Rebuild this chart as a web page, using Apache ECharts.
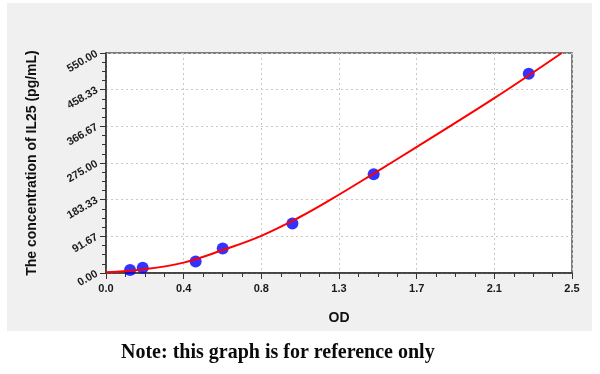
<!DOCTYPE html>
<html>
<head>
<meta charset="utf-8">
<script src="https://cdn.jsdelivr.net/npm/echarts@6/dist/echarts.min.js"></script>
<style>html,body{margin:0;padding:0;background:#fff}#c{width:600px;height:374px}</style>
</head>
<body>
<div id="c"></div>
<script>
// Measured standard points (OD, concentration pg/mL)
const pointOD = [0.129, 0.197, 0.481, 0.626, 1.0, 1.436, 2.268];
const pointConc = [7.5, 13, 29, 61, 124, 247, 498];
// Fitted curve
const curveOD = [0, 0.2, 0.4167, 0.63, 0.833, 1.04, 1.2, 1.434, 1.67, 2.083, 2.445];
const curveConc = [2, 9, 26, 58, 93, 140, 182, 248, 316, 437, 550];
// Tick labels
const xTickLabels = ['0.0', '0.4', '0.8', '1.3', '1.7', '2.1', '2.5'];
const yTickLabels = ['0.00', '91.67', '183.33', '275.00', '366.67', '458.33', '550.00'];
const xMax = 2.5, yMax = 550;
const xStep = xMax / 6, yStep = yMax / 6;

const chart = echarts.init(document.getElementById('c'), null, {renderer: 'canvas'});
const tickFont = {fontFamily: 'Liberation Sans', fontWeight: 'bold', fontSize: 11, color: '#1a1a1a'};
chart.setOption({
  animation: false,
  graphic: [
    {type: 'rect', z: -10, silent: true, shape: {x: 7, y: 3, width: 585, height: 328}, style: {fill: '#f0f0f0'}},
    {type: 'text', left: 121, top: 343, style: {text: 'Note: this graph is for reference only', fontFamily: 'Liberation Serif', fontWeight: 'bold', fontSize: 20, fill: '#0a0a0a'}}
  ],
  grid: {left: 106, right: 28, top: 53, bottom: 101, show: true, backgroundColor: '#ffffff', borderColor: '#555', borderWidth: 1.5},
  xAxis: {
    type: 'value', min: 0, max: xMax, interval: xStep,
    name: 'OD', nameLocation: 'middle', nameGap: 38,
    nameTextStyle: {fontFamily: 'Liberation Sans', fontWeight: 'bold', fontSize: 14, color: '#111'},
    axisLine: {show: true, lineStyle: {color: '#333', width: 1.5}},
    axisTick: {show: true, length: 6, lineStyle: {color: '#333'}},
    minorTick: {show: true, splitNumber: 4, length: 4, lineStyle: {color: '#333'}},
    axisLabel: Object.assign({margin: 10, formatter: v => xTickLabels[Math.round(v / xStep)]}, tickFont),
    splitLine: {show: true, lineStyle: {color: '#c8c8c8', type: [2, 3], width: 1}}
  },
  yAxis: {
    type: 'value', min: 0, max: yMax, interval: yStep,
    name: 'The concentration of IL25 (pg/mL)', nameLocation: 'middle', nameGap: 67,
    nameTextStyle: {fontFamily: 'Liberation Sans', fontWeight: 'bold', fontSize: 14, color: '#111'},
    axisLine: {show: true, lineStyle: {color: '#333', width: 1.5}},
    axisTick: {show: true, length: 6, lineStyle: {color: '#333'}},
    minorTick: {show: true, splitNumber: 4, length: 4, lineStyle: {color: '#333'}},
    axisLabel: Object.assign({margin: 9, rotate: 30, formatter: v => yTickLabels[Math.round(v / yStep)]}, tickFont),
    splitLine: {show: true, lineStyle: {color: '#c8c8c8', type: [2, 3], width: 1}}
  },
  series: [
    {type: 'line', data: curveOD.map((x, i) => [x, curveConc[i]]), smooth: 0.4, showSymbol: false,
     lineStyle: {color: '#ff0000', width: 2}, z: 3},
    {type: 'scatter', data: pointOD.map((x, i) => [x, pointConc[i]]), symbolSize: 12,
     itemStyle: {color: '#0000ff'}, z: 2}
  ]
});
</script>
</body>
</html>
